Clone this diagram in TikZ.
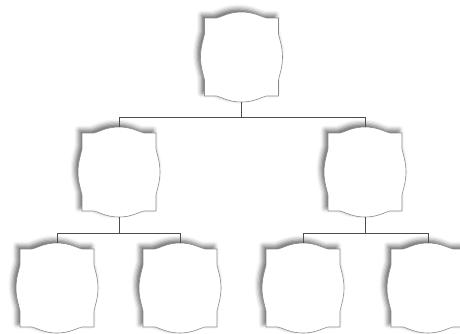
\documentclass[tikz,border=0pt]{standalone}
\usetikzlibrary{shadows.blur}
\tikzset{
  holder/.style={rectangle, minimum width=82pt, minimum height=90pt, inner sep=0pt},
  plaque/.style={draw=black!45, line width=0.6pt, fill=white,
    blur shadow={shadow xshift=-3pt, shadow yshift=3pt, shadow blur radius=4.5pt, shadow opacity=60}},
  conn/.style={draw=black!70, line width=0.6pt}
}
\begin{document}
\begin{tikzpicture}[x=1pt,y=1pt]
\useasboundingbox (0,0) rectangle (460,-333);
\node[holder] (t)  at (241.5,-57) {};
\node[holder] (m1) at (119,-172) {};
\node[holder] (m2) at (365,-172) {};
\node[holder] (b1) at (57,-288) {};
\node[holder] (b2) at (180,-288) {};
\node[holder] (b3) at (303,-288) {};
\node[holder] (b4) at (428,-288) {};
\foreach \n in {t,m1,m2,b1,b2,b3,b4}{
  \path[plaque, shift={(\n.center)}]
    (-37,39) -- (-25,39) .. controls (-20,40) and (-13,45) .. (0,45)
    .. controls (13,45) and (20,40) .. (25,39) -- (37,39) -- (37,23)
    .. controls (38,18) and (41,10) .. (41,0) .. controls (41,-10) and (38,-18) .. (37,-23)
    -- (37,-39) -- (25,-39) .. controls (20,-40) and (13,-45) .. (0,-45)
    .. controls (-13,-45) and (-20,-40) .. (-25,-39) -- (-37,-39) -- (-37,-23)
    .. controls (-38,-18) and (-41,-10) .. (-41,0) .. controls (-41,10) and (-38,18) .. (-37,23) -- cycle;
}
\draw[conn] (t.south) -- ++(0,-15) coordinate (tj);
\draw[conn] (tj) -| (m1.north);
\draw[conn] (tj) -| (m2.north);
\draw[conn] (m1.south) -- ++(0,-16) coordinate (lj);
\draw[conn] (lj) -| (b1.north);
\draw[conn] (lj) -| (b2.north);
\draw[conn] (m2.south) -- ++(0,-16) coordinate (rj);
\draw[conn] (rj) -| (b3.north);
\draw[conn] (rj) -| (b4.north);
\end{tikzpicture}
\end{document}
